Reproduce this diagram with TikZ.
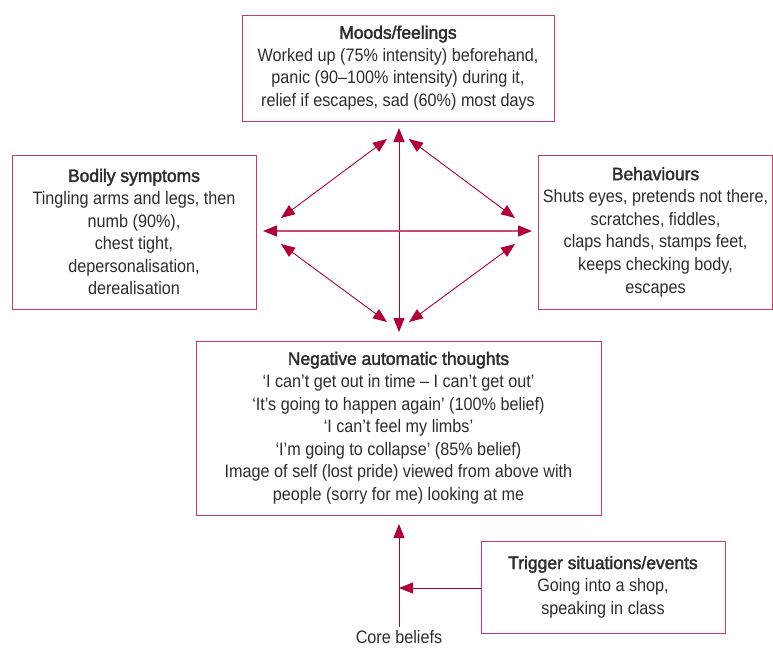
\documentclass[tikz,border=0pt]{standalone}
\usepackage{fontspec}
\setmainfont[FakeStretch=0.9]{Liberation Sans}
\newfontfamily\hdfont[FakeStretch=0.97, FakeBold=2]{Liberation Sans}
\usetikzlibrary{arrows.meta}
\definecolor{crim}{RGB}{176,0,58}
\definecolor{boxln}{RGB}{200,60,100}
\definecolor{txt}{RGB}{45,45,45}
\tikzset{
  box/.style={draw=boxln, line width=1pt, align=center, text=txt, inner sep=0pt,
    font=\fontsize{18}{22.6}\selectfont},
  conn/.style={draw=crim, line width=0.9pt, {Triangle[length=14pt,width=11pt,color=crim]}-{Triangle[length=14pt,width=11pt,color=crim]}},
  oneway/.style={draw=crim, line width=0.9pt, -{Triangle[length=14pt,width=11pt]}},
}
\newcommand{\hd}[1]{{\hdfont #1}}
\begin{document}
\begin{tikzpicture}[x=1pt,y=-1pt]
\useasboundingbox (0,0) rectangle (773,648);
\node[box, minimum width=312pt, minimum height=106pt] (mood) at (398,68)
  {\hd{Moods/feelings}\\Worked up (75\% intensity) beforehand,\\panic (90--100\% intensity) during it,\\relief if escapes, sad (60\%) most days};
\node[box, minimum width=244pt, minimum height=154pt] (body) at (134,232)
  {\hd{Bodily symptoms}\\Tingling arms and legs, then\\numb (90\%),\\chest tight,\\depersonalisation,\\derealisation};
\node[box, minimum width=234pt, minimum height=154pt] (beh) at (655.5,232)
  {\hd{Behaviours}\\Shuts eyes, pretends not there,\\scratches, fiddles,\\claps hands, stamps feet,\\keeps checking body,\\escapes};
\node[box, minimum width=405pt, minimum height=174pt] (nat) at (398.5,428)
  {\hd{Negative automatic thoughts}\\‘I can’t get out in time -- I can’t get out’\\‘It’s going to happen again’ (100\% belief)\\‘I can’t feel my limbs’\\‘I’m going to collapse’ (85\% belief)\\Image of self (lost pride) viewed from above with\\people (sorry for me) looking at me};
\node[box, minimum width=244pt, minimum height=92pt] (trig) at (603,587)
  {\hd{Trigger situations/events}\\Going into a shop,\\speaking in class};
\node[text=txt, inner sep=0pt, font=\fontsize{18}{22}\selectfont] (core) at (399,637) {Core beliefs};

% arrow end points
\coordinate (vt) at (399,128); \coordinate (vb) at (399,332);
\coordinate (hl) at (263,231); \coordinate (hr) at (532,231);
\coordinate (ul1) at (387,139); \coordinate (ul2) at (281,218);
\coordinate (ur1) at (409,139); \coordinate (ur2) at (515,218);
\coordinate (ll1) at (281,244); \coordinate (ll2) at (387,322);
\coordinate (lr1) at (515,244); \coordinate (lr2) at (409,322);
\coordinate (cbt) at (399,524); \coordinate (cbb) at (399,627);
\coordinate (junc) at (399,588);

\draw[conn] (vt) -- (vb);
\draw[conn, line width=1.3pt, draw=crim!70] (hl) -- (hr);
\draw[conn] (ul1) -- (ul2);
\draw[conn] (ur1) -- (ur2);
\draw[conn] (ll1) -- (ll2);
\draw[conn] (lr1) -- (lr2);
\draw[oneway] (cbb) -- (cbt);
\draw[oneway] (trig.west |- junc) -- (junc);
\end{tikzpicture}
\end{document}
